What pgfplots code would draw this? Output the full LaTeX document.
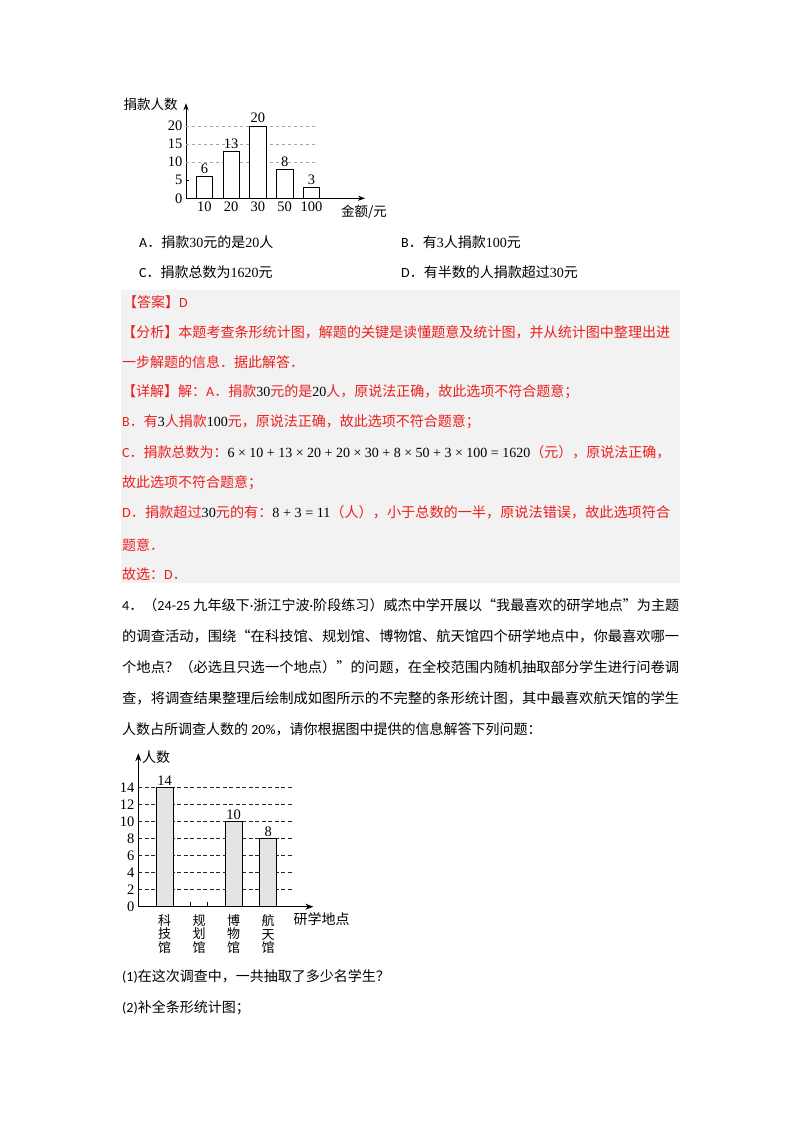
\documentclass[border=0pt]{standalone}
\usepackage{graphicx}
\usepackage{xcolor}
\usepackage{pgfplots}
\pgfplotsset{compat=1.18}
\usetikzlibrary{arrows.meta}
\usepackage{fontspec}
\setmainfont{Noto Sans CJK SC}
\newfontfamily\tnr{Liberation Serif}
\newfontfamily\calib{Carlito}

\definecolor{ansred}{RGB}{236,30,30}
\definecolor{boxgray}{RGB}{242,242,242}
\definecolor{bargray}{RGB}{228,228,228}

\newcommand\nb[1]{\textcolor{black}{\tnr #1}}
\newcommand\fullR[1]{\resizebox{548pt}{\height}{#1}}
\newcommand\fullP[1]{\resizebox{557pt}{\height}{#1}}

\begin{document}
\begin{tikzpicture}[x=1pt,y=1pt,
  ln/.style={anchor=west, inner sep=0pt, font=\fontsize{14}{16}\selectfont}]
\fill[white] (0,0) rectangle (800,1132);
\coordinate (o1) at (186,933.7);
\coordinate (o2) at (138.3,225.3);

% ---- chart 1: donations
\node[font=\fontsize{13.5}{14}\selectfont] at (150.5,1132-104) {捐款人数};
\node[font=\fontsize{13.5}{14}\selectfont] at (364,1132-212) {金额/元};
\begin{axis}[
  at={(o1)}, anchor=south west,
  scale only axis, width=179pt, height=95pt,
  xmin=-0.69, xmax=6, ymin=0, ymax=26.3,
  axis lines=left,
  axis line style={line width=0.8pt, -{Stealth[length=7pt,width=5pt]}},
  ybar, bar width=0.62,
  xtick={0,1,2,3,4}, xticklabels={10,20,30,50,100},
  ytick={0,5,10,15,20},
  tick align=inside, major tick length=3pt,
  xtick style={draw=none}, ytick style={black, line width=0.6pt},
  ticklabel style={font=\tnr\fontsize{14.5}{14.5}\selectfont},
  /pgf/number format/assume math mode=true,
  clip=false,
  nodes near coords,
  every node near coord/.style={font=\tnr\fontsize{14.5}{14.5}\selectfont, inner sep=2.5pt, black},
]
\draw[gray!70, dashed, line width=0.6pt] (axis cs:-0.69,20) -- (axis cs:4.24,20);
\draw[gray!70, dashed, line width=0.6pt] (axis cs:-0.69,15) -- (axis cs:4.24,15);
\draw[gray!70, dashed, line width=0.6pt] (axis cs:-0.69,10) -- (axis cs:4.24,10);
\addplot[fill=white, draw=black, line width=0.8pt]
  coordinates {(0,6) (1,13) (2,20) (3,8) (4,3)};
\end{axis}

% ---- options
\node[ln] at (139,1132-242) {{\calib A}．捐款{\tnr 30}元的是{\tnr 20}人};
\node[ln] at (401,1132-242) {{\calib B}．有{\tnr 3}人捐款{\tnr 100}元};
\node[ln] at (139,1132-272) {{\calib C}．捐款总数为{\tnr 1620}元};
\node[ln] at (401,1132-272) {{\calib D}．有半数的人捐款超过{\tnr 30}元};

% ---- answer block
\fill[boxgray] (120.5,1132-290) rectangle (679.5,1132-583);
\begin{scope}[every node/.append style={text=ansred}]
\node[ln] at (123,1132-302) {【答案】{\calib D}};
\node[ln] at (122,1132-332) {\fullR{【分析】本题考查条形统计图，解题的关键是读懂题意及统计图，并从统计图中整理出进}};
\node[ln] at (122,1132-362) {一步解题的信息．据此解答．};
\node[ln] at (122,1132-392) {【详解】解：{\calib A}．捐款\nb{30}元的是\nb{20}人，原说法正确，故此选项不符合题意；};
\node[ln] at (122,1132-422) {{\calib B}．有\nb{3}人捐款\nb{100}元，原说法正确，故此选项不符合题意；};
\node[ln] at (122,1132-452) {\fullR{{\calib C}．捐款总数为：\nb{6 × 10 + 13 × 20 + 20 × 30 + 8 × 50 + 3 × 100 = 1620}（元），原说法正确，}};
\node[ln] at (122,1132-483) {故此选项不符合题意；};
\node[ln] at (122,1132-512) {\fullR{{\calib D}．捐款超过\nb{30}元的有：\nb{8 + 3 = 11}（人），小于总数的一半，原说法错误，故此选项符合}};
\node[ln] at (122,1132-545) {题意．};
\node[ln] at (122,1132-574) {故选：{\calib D}．};
\end{scope}

% ---- problem 4
\node[ln] at (122,1132-605) {\fullP{{\calib 4}．（{\calib 24-25} 九年级下{\calib ·}浙江宁波{\calib ·}阶段练习）威杰中学开展以“我最喜欢的研学地点”为主题}};
\node[ln] at (122,1132-636) {\fullP{的调查活动，围绕“在科技馆、规划馆、博物馆、航天馆四个研学地点中，你最喜欢哪一}};
\node[ln] at (122,1132-667) {\fullP{个地点？（必选且只选一个地点）”的问题，在全校范围内随机抽取部分学生进行问卷调}};
\node[ln] at (122,1132-698) {\fullP{查，将调查结果整理后绘制成如图所示的不完整的条形统计图，其中最喜欢航天馆的学生}};
\node[ln] at (122,1132-729) {人数占所调查人数的 {\calib 20\%}，请你根据图中提供的信息解答下列问题：};

% ---- chart 2: favourite places
\node[font=\fontsize{14}{14}\selectfont] at (156,1132-757) {人数};
\node[font=\fontsize{14}{14}\selectfont] at (321.5,1132-919) {研学地点};
\begin{axis}[
  at={(o2)}, anchor=south west,
  scale only axis, width=175pt, height=153.4pt,
  xmin=-0.765, xmax=4.31, ymin=0, ymax=18.05,
  axis lines=left,
  axis line style={line width=0.9pt, -{Stealth[length=8pt,width=6pt]}},
  ybar, bar width=0.5,
  xtick={0,1,2,3},
  xticklabels={{科\\技\\馆},{规\\划\\馆},{博\\物\\馆},{航\\天\\馆}},
  xticklabel style={align=center, font=\fontsize{13}{13.5}\selectfont},
  ytick={0,2,...,14},
  yticklabel style={font=\tnr\fontsize{14.5}{14.5}\selectfont, inner sep=1.5pt},
  tick style={draw=none},
  /pgf/number format/assume math mode=true,
  clip=false,
  nodes near coords,
  every node near coord/.style={font=\tnr\fontsize{14.5}{14.5}\selectfont, inner sep=1.5pt, black},
]
\foreach \v in {2,4,...,14} {
  \edef\tmp{\noexpand\draw[black!85, line width=0.9pt, dash pattern=on 4pt off 2.5pt]
    (axis cs:-0.765,\v) -- (axis cs:3.73,\v);}
  \tmp
}
\draw[line width=0.8pt] (axis cs:0.75,0) -- (axis cs:0.75,0.55);
\draw[line width=0.8pt] (axis cs:1.25,0) -- (axis cs:1.25,0.55);
\addplot[fill=bargray, draw=black, line width=0.8pt]
  coordinates {(0,14) (2,10) (3,8)};
\end{axis}

% ---- questions
\node[ln] at (122,1132-977) {{\calib (1)}在这次调查中，一共抽取了多少名学生？};
\node[ln] at (122,1132-1008) {{\calib (2)}补全条形统计图；};
\end{tikzpicture}
\end{document}
